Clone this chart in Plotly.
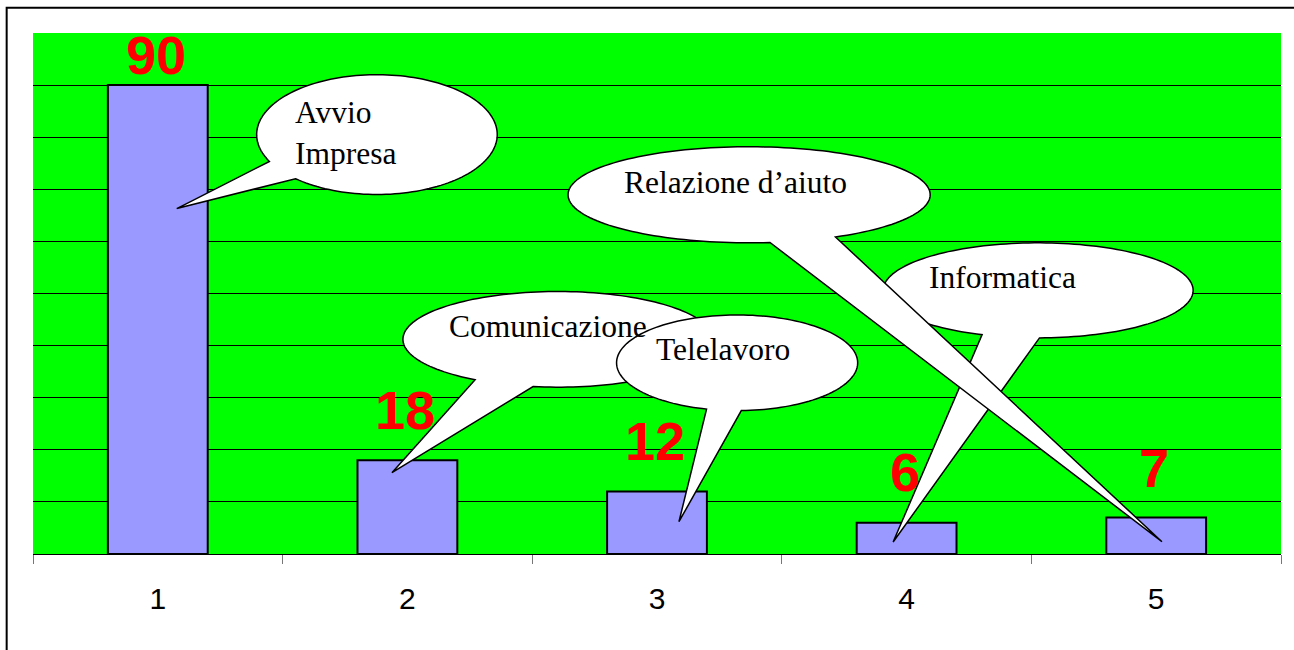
import numpy as np
import plotly.graph_objects as go

# ---- data ----
categories = [1, 2, 3, 4, 5]
tick_labels = ["1", "2", "3", "4", "5"]
values = [90, 18, 12, 6, 7]
value_labels = ["90", "18", "12", "6", "7"]

# ---- callout bubbles (decoration, in axis units) ----
bubbles = [
    dict(text="Avvio<br>Impresa", cx=1.878, cy=80.5, rx=0.482, ry=11.5, a0=206.6, a1=227.4,
         tip=(1.076, 66.3), tx=1.541, ty=80.9, anchor="left"),
    dict(text="Comunicazione", cx=2.603, cy=41.2, rx=0.621, ry=9.18, a0=237.7, a1=260.8,
         tip=(1.938, 15.6), tx=2.563, ty=43.6, anchor="center"),
    dict(text="Telelavoro", cx=3.321, cy=36.7, rx=0.483, ry=9.18, a0=255.3, a1=272.0,
         tip=(3.088, 6.2), tx=3.265, ty=39.2, anchor="center"),
    dict(text="Informatica", cx=4.527, cy=50.6, rx=0.621, ry=9.12, a0=248.8, a1=270.5,
         tip=(3.946, 2.3), tx=4.385, ty=53.0, anchor="center"),
    dict(text="Relazione d’aiuto", cx=3.369, cy=68.95, rx=0.7255, ry=9.22, a0=276.6, a1=298.5,
         tip=(5.023, 2.36), tx=3.315, ty=71.4, anchor="center"),
]
label_yshift = [30, 50, 50, 51, 50]


def bubble_path(b):
    t = np.radians(np.linspace(b["a1"], b["a0"] + 360, 160))
    xs = b["cx"] + b["rx"] * np.cos(t)
    ys = b["cy"] + b["ry"] * np.sin(t)
    pts = [f"{x:.5f},{y:.5f}" for x, y in zip(xs, ys)]
    return "M" + " L".join(pts) + f" L{b['tip'][0]},{b['tip'][1]} Z"


fig = go.Figure()
fig.add_trace(go.Bar(
    x=categories, y=values, width=0.4,
    marker=dict(color="#9999FF", line=dict(color="black", width=2)),
    hoverinfo="skip",
))

shapes = []
for b in bubbles:
    shapes.append(dict(type="path", xref="x", yref="y", path=bubble_path(b),
                       fillcolor="white", line=dict(color="black", width=1.5), layer="above"))
# outer frame (only top/left edges visible inside the picture)
shapes.append(dict(type="rect", xref="paper", yref="paper",
                   x0=-0.0211, x1=1.1, y0=-0.4, y1=1.0486,
                   line=dict(color="black", width=2), fillcolor="rgba(0,0,0,0)", layer="above"))

annotations = []
for c, v, lab, ys in zip(categories, values, value_labels, label_yshift):
    annotations.append(dict(x=c, y=v, xref="x", yref="y", text=lab, showarrow=False,
                            xanchor="center", yanchor="middle", yshift=ys, xshift=-2,
                            font=dict(family="Liberation Sans", size=54, color="#FF0000",
                                      weight="bold")))
for b in bubbles:
    annotations.append(dict(x=b["tx"], y=b["ty"], xref="x", yref="y", text=b["text"],
                            showarrow=False, xanchor=b["anchor"], yanchor="middle",
                            align="left",
                            font=dict(family="Liberation Serif", size=31.5, color="black")))

fig.update_layout(
    width=1294, height=650,
    margin=dict(l=33, r=13, t=33, b=96),
    paper_bgcolor="white", plot_bgcolor="#00FF00",
    showlegend=False, bargap=0.6,
    shapes=shapes, annotations=annotations,
    xaxis=dict(range=[0.5, 5.5], tickmode="array", tickvals=categories, ticktext=tick_labels,
               ticks="", showgrid=False, zeroline=False,
               showline=True, linecolor="black", linewidth=1,
               tickfont=dict(family="Liberation Sans", size=30, color="black"),
               ticklabelstandoff=18,
               minor=dict(ticks="outside", tick0=0.5, dtick=1, ticklen=9,
                          tickcolor="#777777", tickwidth=1, showgrid=False)),
    yaxis=dict(range=[0, 100], tick0=0, dtick=10, showgrid=True, gridcolor="black",
               gridwidth=1, showticklabels=False, ticks="", zeroline=False, showline=False),
)

fig.write_html("out.html", config={"displayModeBar": False},
               post_script="document.body.style.margin='0';")
